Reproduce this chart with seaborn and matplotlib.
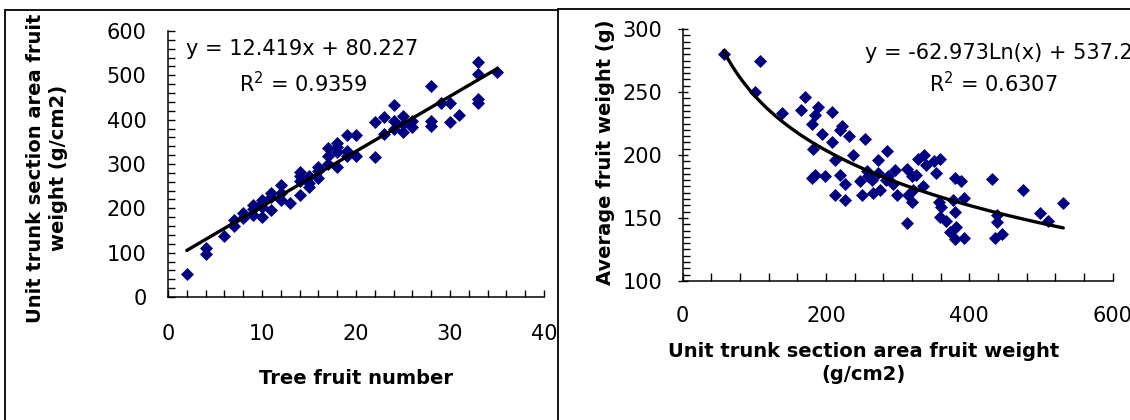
import numpy as np
import pandas as pd
import matplotlib
matplotlib.use("Agg")
import matplotlib.pyplot as plt
from matplotlib.lines import Line2D
from matplotlib.ticker import MultipleLocator
import seaborn as sns

# Tree fruit number vs. unit trunk section area fruit weight
fruit_number = [2, 4, 4, 6, 7, 7, 8, 8, 9, 9, 9, 10, 10, 10, 10, 11, 11, 11,
                12, 12, 12, 13, 14, 14, 14, 14, 15, 15, 15, 16, 16, 16,
                17, 17, 17, 18, 18, 18, 18, 19, 19, 19, 20, 20, 22, 22,
                23, 23, 24, 24, 24, 25, 25, 25, 26, 26, 28, 28, 28, 29,
                30, 30, 31, 33, 33, 33, 33, 35]
unit_weight = [53, 110, 98, 138, 173, 160, 189, 178, 207, 184, 198, 219, 181,
               212, 204, 196, 234, 226, 253, 234, 219, 211, 283, 272, 229,
               262, 272, 249, 258, 294, 268, 285, 336, 317, 300, 347, 328,
               294, 338, 366, 317, 330, 366, 317, 394, 315, 405, 368, 432,
               396, 379, 409, 372, 390, 398, 383, 477, 398, 385, 438, 437,
               395, 410, 530, 502, 446, 437, 507]

# Unit trunk section area fruit weight vs. average fruit weight
area_weight = [57, 108, 101, 138, 171, 165, 189, 185, 180, 208, 222, 219, 194,
               208, 232, 254, 182, 212, 238, 273, 285, 180, 185, 198, 219,
               226, 212, 226, 247, 250, 257, 264, 266, 275, 273, 287, 294,
               296, 299, 313, 320, 326, 315, 320, 313, 329, 336, 340, 350,
               359, 354, 357, 361, 368, 359, 377, 380, 389, 393, 380, 382,
               373, 380, 393, 431, 438, 438, 436, 445, 475, 499, 510, 531,
               258, 335, 322, 283]
avg_weight = [280, 275, 250, 233, 246, 236, 238, 232, 225, 234, 223, 220, 217,
              210, 215, 213, 205, 196, 200, 196, 203, 182, 184, 183, 184,
              177, 168, 164, 179, 168, 187, 180, 170, 172, 186, 183, 177,
              188, 168, 189, 183, 184, 168, 163, 146, 197, 200, 192, 195,
              197, 186, 163, 159, 148, 151, 164, 182, 179, 166, 155, 143,
              139, 133, 134, 181, 152, 147, 134, 137, 172, 154, 148, 162,
              183, 175, 172, 180]

# Fitted trend lines
lin_slope, lin_icpt, lin_r2 = 12.419, 80.227, 0.9359
log_coef, log_icpt, log_r2 = -62.973, 537.29, 0.6307

sns.set_style("ticks")
plt.rcParams["font.family"] = ["DejaVu Sans"]
plt.rcParams["mathtext.fontset"] = "dejavusans"
plt.rcParams["text.color"] = "black"
plt.rcParams["axes.labelcolor"] = "black"
plt.rcParams["xtick.color"] = "black"
plt.rcParams["ytick.color"] = "black"

W, H = 1130, 420
fig = plt.figure(figsize=(W / 100, H / 100), dpi=100)
fig.patch.set_facecolor("white")

def px_axes(x0, y0, x1, y1):
    return fig.add_axes([x0 / W, 1 - y1 / H, (x1 - x0) / W, (y1 - y0) / H])

navy = "#000080"
tick_fs = 15
label_fs = 14
eq_fs = 15

ax1 = px_axes(168, 31, 544, 297)
ax2 = px_axes(682.7, 29, 1112.7, 281)

for ax in (ax1, ax2):
    ax.set_facecolor("white")
    for side in ("top", "right"):
        ax.spines[side].set_visible(False)
    for side in ("left", "bottom"):
        ax.spines[side].set_color("black")
        ax.spines[side].set_linewidth(1.1)

# Left panel: linear relation
df1 = pd.DataFrame({"n": fruit_number, "w": unit_weight})
sns.scatterplot(data=df1, x="n", y="w", marker="D", color=navy, s=44,
                linewidth=0, ax=ax1, zorder=3, clip_on=False)
x1 = np.linspace(min(fruit_number), max(fruit_number), 50)
sns.lineplot(x=x1, y=lin_slope * x1 + lin_icpt, color="black", lw=2.4,
             ax=ax1, zorder=4)
ax1.set_xlim(0, 40)
ax1.set_ylim(0, 600)
ax1.xaxis.set_major_locator(MultipleLocator(10))
ax1.xaxis.set_minor_locator(MultipleLocator(2))
ax1.yaxis.set_major_locator(MultipleLocator(100))
ax1.yaxis.set_minor_locator(MultipleLocator(20))
ax1.tick_params(axis="both", which="both", direction="in", color="black",
                width=1, labelsize=tick_fs, labelcolor="black")
ax1.tick_params(axis="both", which="major", length=5)
ax1.tick_params(axis="both", which="minor", length=5)
ax1.tick_params(axis="x", which="major", pad=19.5)
ax1.tick_params(axis="y", which="major", pad=15.5)
ax1.set_xlabel("Tree fruit number", fontsize=label_fs, fontweight="bold",
               color="black")
ax1.xaxis.label.set_va("center")
ax1.xaxis.set_label_coords(0.5, -0.305)
ax1.set_ylabel("Unit trunk section area fruit\nweight (g/cm2)",
               fontsize=label_fs, fontweight="bold", linespacing=1.25,
               color="black")
ax1.yaxis.label.set_va("center")
ax1.yaxis.set_label_coords(-0.322, 0.485)
ax1.text(0.358, 0.933, f"y = {lin_slope}x + {lin_icpt}", transform=ax1.transAxes,
         ha="center", va="center", fontsize=eq_fs, color="black")
ax1.text(0.358, 0.803, f"R$^2$ = {lin_r2}", transform=ax1.transAxes,
         ha="center", va="center", fontsize=eq_fs, color="black")

# Right panel: logarithmic relation
df2 = pd.DataFrame({"a": area_weight, "f": avg_weight})
sns.scatterplot(data=df2, x="a", y="f", marker="D", color=navy, s=44,
                linewidth=0, ax=ax2, zorder=3)
x2 = np.linspace(min(area_weight), max(area_weight), 80)
sns.lineplot(x=x2, y=log_coef * np.log(x2) + log_icpt, color="black", lw=2.4,
             ax=ax2, zorder=4)
ax2.set_xlim(0, 600)
ax2.set_ylim(100, 300)
ax2.xaxis.set_major_locator(MultipleLocator(200))
ax2.xaxis.set_minor_locator(MultipleLocator(40))
ax2.yaxis.set_major_locator(MultipleLocator(50))
ax2.yaxis.set_minor_locator(MultipleLocator(5))
ax2.tick_params(axis="both", which="both", direction="in", color="black",
                width=1, labelsize=tick_fs, labelcolor="black")
ax2.tick_params(axis="x", which="both", length=6)
ax2.tick_params(axis="y", which="minor", length=5)
ax2.tick_params(axis="y", which="major", length=7, direction="inout")
ax2.tick_params(axis="x", which="major", pad=18)
ax2.tick_params(axis="y", which="major", pad=11)
ax2.set_xlabel("Unit trunk section area fruit weight\n(g/cm2)",
               fontsize=label_fs, fontweight="bold", linespacing=1.3,
               color="black")
ax2.xaxis.label.set_va("center")
ax2.xaxis.set_label_coords(0.42, -0.325)
ax2.set_ylabel("Average fruit weight (g)", fontsize=label_fs, fontweight="bold",
               color="black")
ax2.yaxis.label.set_va("center")
ax2.yaxis.set_label_coords(-0.18, 0.512)
log_sign = "+" if log_icpt >= 0 else "-"
ax2.text(0.424, 0.9036, f"y = {log_coef}Ln(x) {log_sign} {abs(log_icpt)}",
         transform=ax2.transAxes, ha="left", va="center", fontsize=eq_fs,
         color="black", clip_on=False)
ax2.text(0.7216, 0.7845, f"R$^2$ = {log_r2}", transform=ax2.transAxes,
         ha="center", va="center", fontsize=eq_fs, color="black")

# Panel frames
def frame_line(xs, ys):
    fig.add_artist(Line2D([x / W for x in xs], [1 - y / H for y in ys],
                          transform=fig.transFigure, color="black", lw=1.3))

frame_line([5, 5], [9.5, 420])
frame_line([5, 557.5], [9.5, 9.5])
frame_line([557.5, 557.5], [8.5, 420])
frame_line([557.5, 1130], [8.5, 8.5])

fig.savefig("out.png", dpi=100, facecolor="white")
